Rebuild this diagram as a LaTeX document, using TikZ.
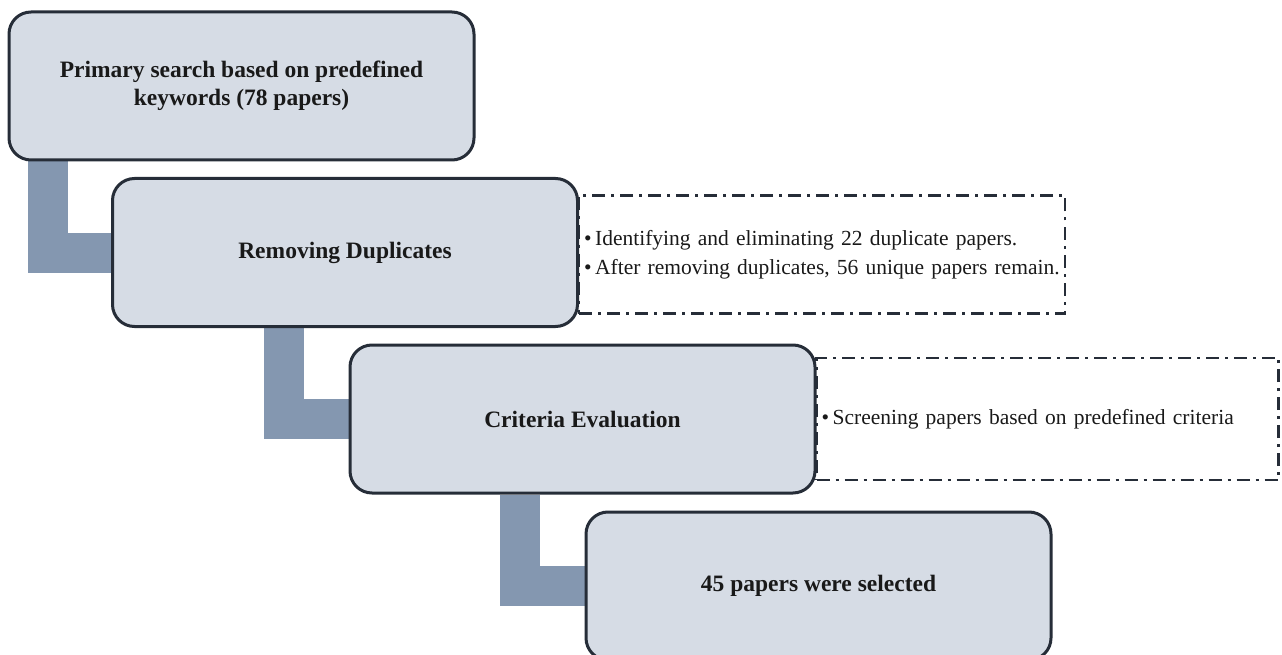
\documentclass[tikz,border=0pt]{standalone}
\usepackage{fontspec}
\setmainfont{Liberation Serif}
\usetikzlibrary{backgrounds}
\definecolor{boxfill}{HTML}{D6DCE5}
\definecolor{boxline}{HTML}{262D38}
\definecolor{barcol}{HTML}{8497B0}
\tikzset{
	stage/.style={draw=boxline,fill=boxfill,line width=3pt,rounded corners=22pt,minimum width=465pt,minimum height=148pt,align=center,text=black!90,font=\fontsize{23.5}{28}\selectfont\bfseries},
	note/.style={draw=boxline,line width=2.5pt,dash pattern=on 13pt off 6pt on 3pt off 6pt,inner xsep=5pt,outer sep=0pt,align=left,text=black!90,font=\fontsize{21.5}{29}\selectfont},
	bar/.style={draw=barcol,line width=40pt}
}
\begin{document}
\begin{tikzpicture}[x=1pt,y=-1pt]
		\useasboundingbox (0,0) rectangle (1282,655);
		\node[stage] (search) at (241.5,86) {Primary search based on predefined\\keywords (78 papers)};
		\node[stage] (dupl) at (345,252.5) {Removing Duplicates};
		\node[stage] (crit) at (582.5,419) {Criteria Evaluation};
		\node[stage] (sel) at (818.5,586) {45 papers were selected};
		\begin{scope}[on background layer]
			\node[note,anchor=west,text width=476pt,minimum height=118pt] (duplnote) at ([yshift=-2pt]dupl.east) {\textbullet\,Identifying and eliminating 22 duplicate papers.\\\textbullet\,After removing duplicates, 56 unique papers remain.};
			\node[note,anchor=west,text width=452pt,minimum height=122pt] (critnote) at (crit.east) {\textbullet\,Screening papers based on predefined criteria};
			\draw[bar] ([xshift=40pt]search.south west) |- (dupl.west);
			\draw[bar] ([xshift=172.5pt]dupl.south west) |- (crit.west);
			\draw[bar] ([xshift=171pt]crit.south west) |- (sel.west);
		\end{scope}
	\end{tikzpicture}
\end{document}
